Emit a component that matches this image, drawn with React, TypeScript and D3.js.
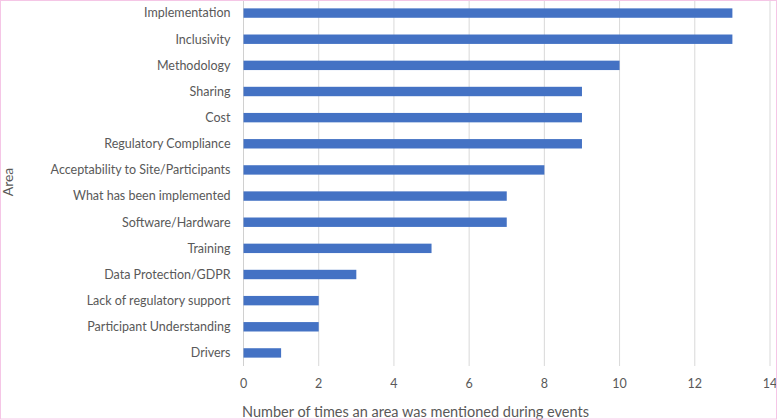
import React from "react";
import * as d3 from "d3";

const categories = [
  "Implementation",
  "Inclusivity",
  "Methodology",
  "Sharing",
  "Cost",
  "Regulatory Compliance",
  "Acceptability to Site/Participants",
  "What has been implemented",
  "Software/Hardware",
  "Training",
  "Data Protection/GDPR",
  "Lack of regulatory support",
  "Participant Understanding",
  "Drivers",
];
const values = [13, 13, 10, 9, 9, 9, 8, 7, 7, 5, 3, 2, 2, 1];
const xTicks = [0, 2, 4, 6, 8, 10, 12, 14];
const xTitle = "Number of times an area was mentioned during events";
const yTitle = "Area";

const W = 777;
const H = 420;
const left = 243.5;
const right = 770;
const top = 0;
const bottom = 366;
const font = "Lato, 'Open Sans', sans-serif";
const textColor = "#595959";

export default function App() {
  const x = d3.scaleLinear().domain([0, 14]).range([left, right]);
  const y = d3
    .scaleBand<string>()
    .domain(categories)
    .range([top, bottom])
    .paddingInner(0.64)
    .paddingOuter(0.32);
  return (
    <svg
      width={W}
      height={H}
      style={{ position: "absolute", left: 0, top: 0, background: "#fff" }}
    >
      <rect x={0} y={0} width={W} height={H} fill="#fff" />
      {xTicks.map((t) => (
        <line
          key={t}
          x1={x(t)}
          x2={x(t)}
          y1={top}
          y2={bottom}
          stroke={t === 0 ? "#d0d0d0" : "#d9d9d9"}
          strokeWidth={1}
        />
      ))}
      {categories.map((c, i) => (
        <rect
          key={c}
          x={x(0)}
          y={y(c)!}
          width={x(values[i]) - x(0)}
          height={y.bandwidth()}
          fill="#4472c4"
        />
      ))}
      {categories.map((c) => (
        <text
          key={c}
          x={x(0) - 13}
          y={y(c)! + y.bandwidth() / 2}
          dy="0.35em"
          textAnchor="end"
          fontFamily={font}
          fontSize={12.5}
          fill={textColor}
        >
          {c}
        </text>
      ))}
      {xTicks.map((t) => (
        <text
          key={t}
          x={x(t)}
          y={384}
          dy="0.35em"
          textAnchor="middle"
          fontFamily={font}
          fontSize={12.5}
          fill={textColor}
        >
          {t}
        </text>
      ))}
      <text
        x={242}
        y={412}
        dy="0.35em"
        fontFamily={font}
        fontSize={14.5}
        fill={textColor}
      >
        {xTitle}
      </text>
      <text
        transform={`translate(8,${182}) rotate(-90)`}
        dy="0.35em"
        textAnchor="middle"
        fontFamily={font}
        fontSize={14}
        fill={textColor}
      >
        {yTitle}
      </text>
      <rect
        x={0.5}
        y={0.5}
        width={W - 1}
        height={H - 1.5}
        fill="none"
        stroke="#f5c6e6"
        strokeWidth={1}
      />
    </svg>
  );
}
